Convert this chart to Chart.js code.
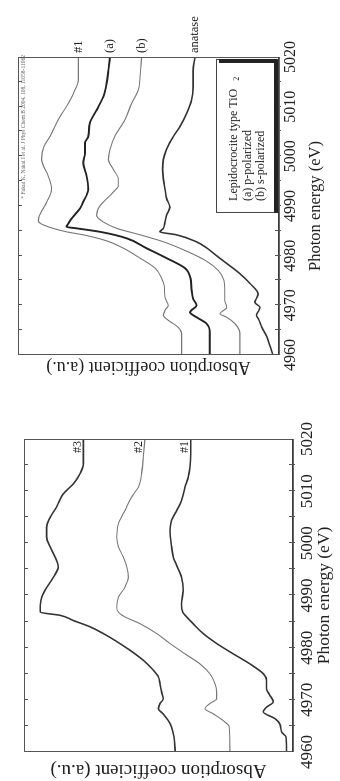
<!DOCTYPE html>
<html><head><meta charset="utf-8">
<script src="https://cdn.jsdelivr.net/npm/chart.js@4.4.1/dist/chart.umd.min.js"></script>
<style>
html,body{margin:0;padding:0;background:#fff;width:340px;height:781px;overflow:hidden;}
#wrap{position:absolute;left:0;top:0;width:781px;height:340px;transform-origin:0 0;transform:translate(0,781px) rotate(-90deg);background:#fff;}
#cA{position:absolute;left:0;top:0;}
#cB{position:absolute;left:391px;top:0;}
</style></head><body>
<div id="wrap"><canvas id="cA" width="391" height="340"></canvas><canvas id="cB" width="390" height="340"></canvas></div>
<script>
// ---------- data: upper panel (lepidocrocite-type TiO2) ----------
const topLabels = ['#1', '(a)', '(b)', 'anatase'];
const s1E = [4960,4964.3,4965.6,4967.0,4968.0,4969.0,4970.0,4971.6,4974.0,4975.5,4977.5,4979.5,4981.5,4983.0,4984.2,4984.8,4986.2,4987.0,4988.0,4989.5,4990.8,4993.4,4996.0,4999.4,5002.0,5004.0,5007.4,5010.7,5013.3,5015.3,5017.3,5020];
const s1A = [3.85,3.85,3.98,4.35,4.53,4.47,4.35,4.47,4.50,4.60,4.84,5.40,6.02,6.65,7.52,8.14,9.01,9.19,9.16,9.01,8.88,8.70,8.82,9.07,8.98,8.76,8.45,8.07,7.83,7.70,7.70,7.70];
const pE = [4960,4964.6,4966.3,4967.6,4968.6,4970.0,4971.3,4973.2,4975.5,4977.5,4979.5,4981.5,4983.5,4984.8,4985.5,4985.8,4986.5,4987.5,4989.5,4990.8,4993.4,4996.0,4998.7,5000.7,5002.7,5004.0,5006.7,5009.3,5012.0,5014.6,5017.3,5020];
const pA = [2.80,2.80,2.92,3.29,3.54,3.29,3.42,3.48,3.52,3.73,4.41,5.16,5.90,6.89,7.76,8.14,8.07,7.95,7.64,7.52,7.33,7.39,7.52,7.45,7.45,7.33,7.27,7.02,6.77,6.65,6.58,6.52];
const sE = [4960,4964.3,4966.3,4967.6,4968.3,4969.6,4971.0,4973.2,4975.0,4977.0,4978.9,4980.9,4982.8,4984.2,4985.5,4986.8,4988.1,4989.5,4990.8,4992.8,4994.1,4995.4,4997.4,4999.4,5001.4,5004.0,5007.4,5010.7,5013.3,5016.0,5020];
const sA = [1.68,1.68,1.86,2.17,2.42,2.17,2.24,2.24,2.27,2.48,2.92,3.66,4.53,5.40,6.27,6.77,7.02,6.96,6.77,6.40,6.21,6.21,6.40,6.58,6.52,6.34,5.96,5.71,5.47,5.40,5.34];
const anE = [4960,4961.7,4963.6,4965.6,4967.2,4968.0,4969.0,4969.6,4970.6,4971.5,4972.3,4974.4,4976.4,4979.0,4980.2,4981.5,4982.8,4984.2,4984.8,4985.5,4986.8,4988.1,4989.8,4991.5,4993.4,4995.4,4997.4,4999.4,5001.4,5004.0,5006.0,5008.7,5011.3,5014.0,5017.3,5020];
const anA = [0.45,0.55,0.67,0.86,0.98,1.06,0.97,0.93,1.12,1.05,1.00,1.30,1.68,2.31,2.60,2.90,3.30,4.04,4.66,4.53,4.47,4.41,4.29,4.41,4.47,4.53,4.56,4.53,4.41,4.16,3.91,3.66,3.48,3.42,3.42,3.35];
const legendLines = ['Lepidocrocite type TiO', '(a) p-polarized', '(b) s-polarized'];
const citation = '* Fukui K, Nakai I et al. J Phys Chem B 2004, 108, 11058-11062';

// ---------- data: lower panel (#1, #2, #3) ----------
const lowLabels = ['#3', '#2', '#1'];
const b3E = [4960,4962.9,4964.8,4966.0,4967.3,4968.3,4969.3,4970.2,4971.5,4973.1,4974.4,4975.7,4977.6,4979.5,4981.4,4982.7,4984.0,4985.2,4986.2,4986.8,4988.1,4989.7,4991.0,4993.5,4995.5,4997.4,4999.3,5001.2,5003.1,5005.0,5007.0,5009.5,5011.4,5013.4,5015.3,5017.8,5020];
const b3A = [4.44,4.48,4.57,4.69,4.88,5.06,5.00,4.88,4.94,5.00,5.06,5.25,5.62,6.11,6.67,7.10,7.59,8.21,8.70,9.44,9.44,9.38,9.26,8.95,8.77,8.89,9.07,9.20,9.20,9.07,8.83,8.58,8.21,7.96,7.84,7.84,7.84];
const b2E = [4960,4964.8,4966.0,4967.3,4968.3,4969.3,4970.2,4971.5,4973.1,4975.0,4976.9,4978.8,4980.8,4982.7,4984.6,4985.9,4986.8,4987.8,4989.7,4991.6,4993.5,4995.5,4997.4,4999.3,5001.2,5003.8,5006.3,5008.9,5010.8,5013.4,5016.5,5020];
const b2A = [2.41,2.43,2.65,3.02,3.33,3.15,2.90,2.90,2.96,3.15,3.52,4.07,4.63,5.12,5.74,6.30,6.54,6.60,6.54,6.30,6.17,6.23,6.36,6.54,6.60,6.54,6.30,6.05,5.80,5.68,5.62,5.56];
const b1E = [4960,4962.9,4963.8,4965.4,4966.4,4967.7,4968.6,4969.6,4970.9,4972.1,4973.7,4975.0,4976.9,4978.8,4980.8,4982.7,4984.6,4985.9,4986.8,4988.4,4991.0,4993.5,4997.4,4999.3,5002.5,5004.4,5006.3,5008.2,5010.8,5012.7,5014.6,5017.2,5020];
const b1A = [0.31,0.33,0.49,0.56,0.74,1.17,1.05,0.80,0.93,1.05,1.05,1.17,1.67,2.28,2.90,3.40,3.77,4.01,4.16,4.20,4.14,4.20,4.51,4.57,4.63,4.57,4.38,4.20,4.07,3.95,3.89,3.86,3.86];

// ---------- axis texts ----------
const energyRange = [4960, 5020];
const xTitle = 'Photon energy (eV)';
const yTitle = 'Absorption coefficient (a.u.)';

const SERIF = "'Liberation Serif', 'DejaVu Serif', serif";
const pts = (E, A) => E.map((e, i) => ({x: e, y: A[i]}));

const framePlugin = {
  id: 'frame',
  afterDatasetsDraw(chart) {
    const {ctx, chartArea: a, scales: {x}} = chart;
    ctx.save();
    ctx.strokeStyle = '#555';
    ctx.lineWidth = 1;
    ctx.strokeRect(a.left + 0.5, a.top + 0.5, a.width - 1, a.height - 1);
    ctx.strokeStyle = '#333';
    ctx.lineWidth = 1.6;
    ctx.beginPath(); ctx.moveTo(a.left, a.bottom); ctx.lineTo(a.right, a.bottom); ctx.stroke();
    ctx.lineWidth = 1;
    ctx.strokeStyle = '#555';
    for (let e = x.min + 5; e < x.max; e += 5) {
      const px = Math.round(x.getPixelForValue(e)) + 0.5;
      ctx.beginPath(); ctx.moveTo(px, a.bottom + 2); ctx.lineTo(px, a.bottom - 4); ctx.stroke();
      ctx.beginPath(); ctx.moveTo(px, a.top); ctx.lineTo(px, a.top + 4); ctx.stroke();
    }
    ctx.restore();
  }
};

function endLabels(labels, opts) {
  return {
    id: 'endLabels',
    afterDatasetsDraw(chart) {
      const {ctx, chartArea: a, scales: {y}} = chart;
      ctx.save();
      ctx.fillStyle = '#222';
      ctx.font = opts.font;
      ctx.textBaseline = 'middle';
      ctx.textAlign = opts.align;
      chart.data.datasets.forEach((ds, i) => {
        const last = ds.data[ds.data.length - 1];
        const py = y.getPixelForValue(last.y) + opts.dy;
        ctx.fillText(labels[i], a.right + opts.dx, py);
      });
      ctx.restore();
    }
  };
}

const legendPlugin = {
  id: 'boxLegend',
  afterDatasetsDraw(chart) {
    const {ctx, chartArea: a, scales: {x}} = chart;
    const l = x.getPixelForValue(4988.6), r = x.getPixelForValue(5019.4);
    const t = a.bottom - 63, b = a.bottom - 2;
    ctx.save();
    ctx.fillStyle = '#fff';
    ctx.fillRect(l, t, r - l, b - t);
    ctx.strokeStyle = '#444';
    ctx.lineWidth = 1;
    ctx.strokeRect(l + 0.5, t + 0.5, r - l, b - t);
    ctx.fillStyle = '#222';
    ctx.fillRect(r - 3, t + 3, 4, b - t - 3);
    ctx.fillRect(l, b - 3, r - l, 4);
    ctx.font = '12px ' + SERIF;
    ctx.textBaseline = 'middle';
    ctx.textAlign = 'left';
    ctx.fillText(legendLines[0], l + 12, t + 18);
    const w = ctx.measureText(legendLines[0]).width;
    ctx.font = '8px ' + SERIF;
    ctx.fillText('2', l + 12 + w + 8, t + 21);
    ctx.font = '12px ' + SERIF;
    ctx.fillText(legendLines[1], l + 12, t + 32);
    ctx.fillText(legendLines[2], l + 12, t + 45);
    ctx.restore();
  }
};

const citePlugin = {
  id: 'cite',
  afterDatasetsDraw(chart) {
    const {ctx, chartArea: a} = chart;
    ctx.save();
    ctx.fillStyle = '#666';
    ctx.font = '5.5px ' + SERIF;
    ctx.textAlign = 'right';
    ctx.textBaseline = 'middle';
    ctx.fillText(citation, a.right + 2, a.top + 6);
    ctx.restore();
  }
};

function makeChart(id, cfg) {
  const ds = cfg.series.map(s => ({
    data: pts(s.E, s.A),
    borderColor: s.color,
    borderWidth: s.width,
    pointRadius: 0,
    fill: false,
    cubicInterpolationMode: 'monotone',
    clip: 0
  }));
  return new Chart(document.getElementById(id), {
    type: 'line',
    data: {datasets: ds},
    options: {
      responsive: false,
      devicePixelRatio: 1,
      animation: false,
      layout: {padding: {left: 0, top: cfg.top, right: cfg.padRight, bottom: 0}},
      plugins: {legend: {display: false}, tooltip: {enabled: false}},
      scales: {
        x: {
          type: 'linear', min: energyRange[0], max: energyRange[1],
          grid: {display: false, drawTicks: false},
          border: {display: false},
          ticks: {stepSize: 10, color: '#222', padding: cfg.tickPad,
                  font: {family: SERIF, size: cfg.tickSize}, callback: v => String(v)},
          title: {display: true, text: xTitle, color: '#222',
                  font: {family: SERIF, size: cfg.xTitleSize}, padding: {top: 0, bottom: cfg.xTitlePad}},
          afterFit: ax => { ax.height = cfg.xHeight; }
        },
        y: {
          type: 'linear', min: cfg.yMin, max: cfg.yMax,
          grid: {display: false, drawTicks: false},
          border: {display: false},
          ticks: {display: false},
          title: {display: true, text: yTitle, color: '#222',
                  font: {family: SERIF, size: cfg.yTitleSize}, padding: {top: cfg.yTitlePad, bottom: 0}},
          afterFit: ax => { ax.width = cfg.yWidth; }
        }
      }
    },
    plugins: cfg.plugins
  });
}

// lower panel (appears at bottom of the page)
makeChart('cA', {
  top: 24, padRight: 391 - 342, xHeight: 340 - 293, yWidth: 29,
  yMin: 0.07, yMax: 10.04, tickPad: 4, tickSize: 17, xTitleSize: 17.5, xTitlePad: 5,
  yTitleSize: 19, yTitlePad: 0,
  series: [
    {E: b3E, A: b3A, color: '#333', width: 1.6},
    {E: b2E, A: b2A, color: '#777', width: 1.1},
    {E: b1E, A: b1A, color: '#333', width: 1.6}
  ],
  plugins: [framePlugin, endLabels(lowLabels, {font: '12px ' + SERIF, align: 'right', dx: -2, dy: -6})]
});

// upper panel (appears at top of the page)
makeChart('cB', {
  top: 18, padRight: 390 - 333, xHeight: 340 - 279, yWidth: 35,
  yMin: 0.22, yMax: 9.95, tickPad: 2, tickSize: 16, xTitleSize: 16.5, xTitlePad: 14,
  yTitleSize: 18, yTitlePad: 12,
  series: [
    {E: s1E, A: s1A, color: '#777', width: 1.1},
    {E: pE, A: pA, color: '#222', width: 1.9},
    {E: sE, A: sA, color: '#777', width: 1.1},
    {E: anE, A: anA, color: '#333', width: 1.6}
  ],
  plugins: [framePlugin, legendPlugin, citePlugin, endLabels(topLabels, {font: '12.5px ' + SERIF, align: 'left', dx: 4, dy: 0})]
});
</script>
</body></html>
